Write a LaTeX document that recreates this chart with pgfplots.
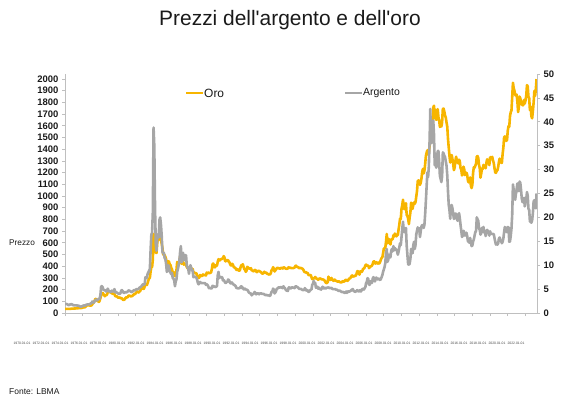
\documentclass[border=0pt]{standalone}
\usepackage{pgfplots}
\pgfplotsset{compat=1.18}
\usepackage{pgfplotstable}
\usepackage{fontspec}
\setmainfont{Liberation Sans}
\definecolor{goldc}{HTML}{F7B500}
\definecolor{silverc}{HTML}{A6A6A6}
\definecolor{axc}{HTML}{BFBFBF}
\definecolor{txt}{HTML}{1A1A1A}

% monthly averages, Jan 1970 - Apr 2023 (USD/oz)
\pgfplotstableread[row sep=\\]{
g\\
35.0\\ 35.0\\ 35.1\\ 35.6\\ 35.9\\ 35.5\\ 35.3\\ 35.4\\ 36.2\\ 37.5\\ 37.4\\ 37.4\\
37.9\\ 38.7\\ 38.9\\ 39.0\\ 40.5\\ 40.1\\ 41.0\\ 42.7\\ 42.0\\ 42.5\\ 42.9\\ 43.5\\
45.8\\ 48.3\\ 48.3\\ 49.0\\ 54.6\\ 62.1\\ 65.7\\ 67.0\\ 65.5\\ 64.9\\ 62.9\\ 63.9\\
65.1\\ 74.2\\ 84.3\\ 90.5\\ 102\\ 120\\ 120\\ 106\\ 103\\ 100\\ 94.8\\ 106\\
129\\ 150\\ 168\\ 172\\ 163\\ 154\\ 143\\ 154\\ 151\\ 158\\ 181\\ 183\\
176\\ 180\\ 178\\ 170\\ 167\\ 164\\ 165\\ 163\\ 144\\ 143\\ 142\\ 139\\
131\\ 131\\ 133\\ 128\\ 126\\ 126\\ 118\\ 110\\ 114\\ 117\\ 130\\ 134\\
132\\ 136\\ 148\\ 149\\ 147\\ 141\\ 144\\ 145\\ 150\\ 158\\ 162\\ 160\\
173\\ 179\\ 184\\ 175\\ 177\\ 183\\ 189\\ 206\\ 212\\ 227\\ 206\\ 208\\
227\\ 245\\ 242\\ 239\\ 257\\ 279\\ 295\\ 301\\ 355\\ 392\\ 392\\ 456\\
675\\ 665\\ 554\\ 517\\ 513\\ 600\\ 644\\ 627\\ 674\\ 661\\ 623\\ 594\\
557\\ 500\\ 498\\ 495\\ 480\\ 461\\ 409\\ 410\\ 443\\ 437\\ 413\\ 410\\
384\\ 374\\ 330\\ 350\\ 334\\ 315\\ 339\\ 364\\ 436\\ 422\\ 415\\ 444\\
481\\ 491\\ 421\\ 432\\ 438\\ 413\\ 422\\ 416\\ 411\\ 394\\ 382\\ 388\\
370\\ 386\\ 394\\ 381\\ 377\\ 378\\ 348\\ 348\\ 341\\ 340\\ 341\\ 320\\
303\\ 299\\ 304\\ 325\\ 316\\ 317\\ 317\\ 330\\ 324\\ 325\\ 325\\ 321\\
345\\ 339\\ 346\\ 340\\ 342\\ 343\\ 348\\ 376\\ 418\\ 423\\ 395\\ 390\\
408\\ 401\\ 408\\ 439\\ 460\\ 449\\ 451\\ 461\\ 460\\ 465\\ 467\\ 486\\
477\\ 442\\ 443\\ 452\\ 451\\ 452\\ 437\\ 432\\ 413\\ 406\\ 420\\ 419\\
404\\ 388\\ 390\\ 384\\ 371\\ 367\\ 375\\ 365\\ 362\\ 366\\ 394\\ 409\\
410\\ 417\\ 393\\ 374\\ 369\\ 352\\ 362\\ 395\\ 389\\ 380\\ 381\\ 378\\
383\\ 364\\ 363\\ 358\\ 357\\ 367\\ 368\\ 356\\ 349\\ 358\\ 360\\ 361\\
354\\ 354\\ 345\\ 338\\ 337\\ 341\\ 353\\ 343\\ 345\\ 344\\ 335\\ 334\\
329\\ 330\\ 330\\ 342\\ 367\\ 372\\ 392\\ 378\\ 355\\ 364\\ 373\\ 383\\
387\\ 382\\ 384\\ 377\\ 381\\ 386\\ 385\\ 380\\ 391\\ 389\\ 384\\ 379\\
379\\ 377\\ 382\\ 391\\ 385\\ 387\\ 386\\ 383\\ 383\\ 383\\ 386\\ 387\\
400\\ 405\\ 396\\ 393\\ 392\\ 385\\ 383\\ 387\\ 383\\ 381\\ 378\\ 369\\
355\\ 347\\ 352\\ 344\\ 344\\ 341\\ 324\\ 324\\ 323\\ 325\\ 306\\ 289\\
289\\ 297\\ 296\\ 308\\ 299\\ 292\\ 293\\ 284\\ 289\\ 296\\ 294\\ 291\\
287\\ 287\\ 286\\ 282\\ 277\\ 262\\ 256\\ 257\\ 264\\ 311\\ 293\\ 283\\
284\\ 300\\ 286\\ 280\\ 275\\ 286\\ 282\\ 275\\ 273\\ 270\\ 266\\ 272\\
266\\ 262\\ 263\\ 261\\ 272\\ 270\\ 268\\ 273\\ 283\\ 283\\ 276\\ 276\\
282\\ 296\\ 294\\ 302\\ 314\\ 321\\ 314\\ 310\\ 319\\ 317\\ 319\\ 333\\
357\\ 359\\ 341\\ 328\\ 355\\ 356\\ 351\\ 360\\ 379\\ 379\\ 389\\ 407\\
414\\ 405\\ 406\\ 404\\ 384\\ 392\\ 398\\ 400\\ 406\\ 420\\ 439\\ 442\\
424\\ 423\\ 434\\ 428\\ 422\\ 431\\ 424\\ 437\\ 456\\ 470\\ 476\\ 510\\
549\\ 555\\ 557\\ 610\\ 676\\ 596\\ 633\\ 632\\ 598\\ 586\\ 628\\ 629\\
631\\ 664\\ 655\\ 679\\ 667\\ 655\\ 665\\ 665\\ 713\\ 754\\ 806\\ 803\\
889\\ 922\\ 968\\ 909\\ 888\\ 890\\ 939\\ 839\\ 829\\ 806\\ 760\\ 816\\
858\\ 943\\ 925\\ 890\\ 928\\ 945\\ 934\\ 949\\ 996\\ 1043\\ 1127\\ 1134\\
1118\\ 1095\\ 1113\\ 1148\\ 1205\\ 1232\\ 1193\\ 1215\\ 1270\\ 1342\\ 1370\\ 1391\\
1356\\ 1372\\ 1424\\ 1474\\ 1510\\ 1529\\ 1572\\ 1756\\ 1772\\ 1666\\ 1739\\ 1652\\
1656\\ 1743\\ 1675\\ 1649\\ 1591\\ 1598\\ 1594\\ 1630\\ 1745\\ 1747\\ 1722\\ 1688\\
1670\\ 1628\\ 1593\\ 1487\\ 1414\\ 1343\\ 1286\\ 1347\\ 1349\\ 1316\\ 1275\\ 1221\\
1244\\ 1300\\ 1336\\ 1299\\ 1287\\ 1279\\ 1311\\ 1296\\ 1239\\ 1223\\ 1176\\ 1200\\
1251\\ 1227\\ 1179\\ 1198\\ 1199\\ 1181\\ 1131\\ 1117\\ 1125\\ 1159\\ 1086\\ 1068\\
1097\\ 1199\\ 1246\\ 1242\\ 1260\\ 1276\\ 1337\\ 1341\\ 1326\\ 1266\\ 1238\\ 1157\\
1192\\ 1234\\ 1231\\ 1266\\ 1246\\ 1260\\ 1237\\ 1283\\ 1314\\ 1280\\ 1283\\ 1265\\
1331\\ 1331\\ 1325\\ 1335\\ 1303\\ 1282\\ 1238\\ 1202\\ 1198\\ 1215\\ 1221\\ 1250\\
1291\\ 1320\\ 1300\\ 1285\\ 1284\\ 1359\\ 1413\\ 1500\\ 1510\\ 1495\\ 1471\\ 1480\\
1560\\ 1597\\ 1592\\ 1683\\ 1716\\ 1732\\ 1847\\ 1968\\ 1922\\ 1901\\ 1866\\ 1858\\
1867\\ 1808\\ 1718\\ 1760\\ 1850\\ 1834\\ 1807\\ 1785\\ 1775\\ 1777\\ 1821\\ 1790\\
1817\\ 1856\\ 1948\\ 1937\\ 1849\\ 1837\\ 1733\\ 1765\\ 1681\\ 1664\\ 1726\\ 1797\\
1898\\ 1855\\ 1913\\ 2000\\
}\goldtab

\pgfplotstableread[row sep=\\]{
s\\
1.86\\ 1.89\\ 1.88\\ 1.84\\ 1.72\\ 1.66\\ 1.70\\ 1.79\\ 1.83\\ 1.85\\ 1.75\\ 1.63\\
1.64\\ 1.59\\ 1.58\\ 1.61\\ 1.60\\ 1.52\\ 1.55\\ 1.50\\ 1.40\\ 1.34\\ 1.34\\ 1.39\\
1.50\\ 1.56\\ 1.57\\ 1.55\\ 1.62\\ 1.76\\ 1.77\\ 1.82\\ 1.82\\ 1.81\\ 1.92\\ 2.01\\
2.05\\ 2.40\\ 2.30\\ 2.18\\ 2.40\\ 2.58\\ 2.80\\ 2.60\\ 2.71\\ 2.90\\ 2.97\\ 2.97\\
3.80\\ 5.60\\ 5.60\\ 5.40\\ 4.90\\ 4.80\\ 4.80\\ 4.60\\ 4.50\\ 4.80\\ 5.10\\ 4.60\\
4.50\\ 4.60\\ 4.40\\ 4.60\\ 4.70\\ 4.50\\ 4.70\\ 5.00\\ 4.30\\ 4.40\\ 4.30\\ 4.20\\
4.10\\ 4.00\\ 4.00\\ 4.10\\ 4.60\\ 4.80\\ 4.60\\ 4.30\\ 4.20\\ 4.30\\ 4.40\\ 4.30\\
4.40\\ 4.50\\ 4.70\\ 4.70\\ 4.60\\ 4.50\\ 4.40\\ 4.40\\ 4.60\\ 4.70\\ 4.80\\ 4.70\\
4.90\\ 5.00\\ 5.00\\ 5.00\\ 5.10\\ 5.30\\ 5.40\\ 5.50\\ 5.70\\ 5.90\\ 6.00\\ 5.90\\
6.10\\ 7.50\\ 7.30\\ 7.40\\ 8.20\\ 8.50\\ 8.90\\ 9.20\\ 13.2\\ 16.4\\ 16.8\\ 21.0\\
38.8\\ 35.0\\ 22.0\\ 14.5\\ 13.0\\ 15.8\\ 16.5\\ 15.8\\ 19.5\\ 20.0\\ 18.5\\ 16.3\\
12.8\\ 12.5\\ 12.6\\ 11.5\\ 11.3\\ 10.3\\ 8.6\\ 8.9\\ 10.0\\ 9.6\\ 8.7\\ 8.4\\
8.1\\ 8.4\\ 7.3\\ 7.2\\ 6.8\\ 5.6\\ 6.6\\ 7.0\\ 8.6\\ 9.2\\ 10.0\\ 11.0\\
12.8\\ 14.0\\ 10.6\\ 11.7\\ 12.6\\ 11.0\\ 12.0\\ 12.1\\ 12.1\\ 10.0\\ 9.5\\ 9.3\\
8.2\\ 9.3\\ 10.0\\ 9.4\\ 9.1\\ 8.8\\ 7.5\\ 7.6\\ 7.6\\ 7.5\\ 7.4\\ 7.0\\
6.3\\ 6.0\\ 6.2\\ 6.5\\ 6.3\\ 6.3\\ 6.2\\ 6.3\\ 6.2\\ 6.3\\ 6.2\\ 5.9\\
6.0\\ 5.9\\ 5.6\\ 5.2\\ 5.3\\ 5.2\\ 5.1\\ 5.2\\ 5.7\\ 5.6\\ 5.6\\ 5.4\\
5.5\\ 5.5\\ 5.7\\ 7.9\\ 8.6\\ 7.3\\ 7.6\\ 7.5\\ 7.5\\ 7.5\\ 6.8\\ 6.9\\
6.7\\ 6.3\\ 6.3\\ 6.5\\ 6.5\\ 7.0\\ 6.9\\ 6.6\\ 6.2\\ 6.2\\ 6.4\\ 6.2\\
6.0\\ 5.9\\ 5.8\\ 5.7\\ 5.3\\ 5.2\\ 5.2\\ 5.1\\ 5.2\\ 5.2\\ 5.5\\ 5.6\\
5.2\\ 5.3\\ 5.0\\ 4.9\\ 5.1\\ 4.9\\ 4.9\\ 4.8\\ 4.7\\ 4.3\\ 4.2\\ 4.1\\
4.1\\ 3.7\\ 3.9\\ 4.0\\ 4.1\\ 4.4\\ 4.2\\ 3.9\\ 4.1\\ 4.1\\ 4.1\\ 3.9\\
4.1\\ 4.1\\ 4.1\\ 4.0\\ 4.0\\ 4.0\\ 3.9\\ 3.8\\ 3.7\\ 3.8\\ 3.7\\ 3.7\\
3.7\\ 3.6\\ 3.6\\ 4.0\\ 4.5\\ 4.5\\ 5.1\\ 4.9\\ 4.1\\ 4.3\\ 4.6\\ 5.1\\
5.1\\ 5.3\\ 5.4\\ 5.3\\ 5.4\\ 5.4\\ 5.3\\ 5.2\\ 5.6\\ 5.3\\ 5.2\\ 4.9\\
4.7\\ 4.7\\ 4.6\\ 5.3\\ 5.4\\ 5.2\\ 5.1\\ 5.3\\ 5.4\\ 5.3\\ 5.3\\ 5.2\\
5.5\\ 5.6\\ 5.5\\ 5.4\\ 5.3\\ 5.1\\ 5.0\\ 5.1\\ 5.0\\ 4.9\\ 4.8\\ 4.8\\
4.8\\ 5.2\\ 5.0\\ 4.7\\ 4.8\\ 4.7\\ 4.4\\ 4.5\\ 4.7\\ 4.9\\ 4.9\\ 5.9\\
6.1\\ 6.7\\ 6.1\\ 6.3\\ 5.3\\ 5.4\\ 5.5\\ 5.1\\ 5.3\\ 5.0\\ 5.0\\ 4.9\\
5.2\\ 5.5\\ 5.2\\ 5.1\\ 5.3\\ 5.1\\ 5.2\\ 5.3\\ 5.3\\ 5.4\\ 5.2\\ 5.2\\
5.2\\ 5.3\\ 5.1\\ 5.0\\ 5.0\\ 5.0\\ 5.0\\ 4.9\\ 4.9\\ 4.8\\ 4.7\\ 4.6\\
4.7\\ 4.6\\ 4.5\\ 4.4\\ 4.4\\ 4.4\\ 4.3\\ 4.2\\ 4.3\\ 4.5\\ 4.2\\ 4.5\\
4.5\\ 4.4\\ 4.6\\ 4.6\\ 4.8\\ 4.9\\ 5.0\\ 4.6\\ 4.6\\ 4.4\\ 4.5\\ 4.6\\
4.8\\ 4.6\\ 4.5\\ 4.6\\ 4.8\\ 4.5\\ 4.8\\ 5.0\\ 5.1\\ 4.9\\ 5.2\\ 5.4\\
6.3\\ 6.5\\ 7.3\\ 7.1\\ 5.9\\ 5.9\\ 6.5\\ 6.7\\ 6.3\\ 7.2\\ 7.5\\ 6.9\\
6.6\\ 7.3\\ 7.4\\ 7.1\\ 7.0\\ 7.2\\ 7.0\\ 6.9\\ 7.1\\ 7.5\\ 7.9\\ 8.6\\
9.1\\ 9.6\\ 10.4\\ 12.6\\ 13.4\\ 10.7\\ 11.1\\ 12.2\\ 11.6\\ 11.7\\ 13.0\\ 13.4\\
12.9\\ 14.0\\ 13.1\\ 13.6\\ 13.3\\ 13.3\\ 12.9\\ 12.2\\ 12.8\\ 13.7\\ 14.6\\ 14.2\\
15.9\\ 17.6\\ 19.1\\ 17.3\\ 16.9\\ 17.0\\ 17.8\\ 14.1\\ 12.1\\ 10.2\\ 10.1\\ 10.3\\
11.3\\ 13.4\\ 13.1\\ 12.5\\ 14.2\\ 14.9\\ 13.4\\ 14.3\\ 16.5\\ 17.2\\ 17.9\\ 17.6\\
17.7\\ 15.9\\ 17.1\\ 18.1\\ 18.4\\ 18.4\\ 17.8\\ 18.4\\ 20.6\\ 23.4\\ 26.4\\ 29.4\\
28.4\\ 30.6\\ 35.8\\ 42.7\\ 35.5\\ 35.8\\ 37.6\\ 40.3\\ 37.4\\ 30.9\\ 33.4\\ 30.4\\
30.9\\ 33.9\\ 33.9\\ 31.7\\ 28.7\\ 28.1\\ 27.4\\ 28.6\\ 33.6\\ 33.4\\ 32.9\\ 32.6\\
31.7\\ 30.8\\ 28.8\\ 25.4\\ 22.6\\ 21.5\\ 19.7\\ 22.1\\ 22.6\\ 21.9\\ 20.8\\ 19.7\\
19.9\\ 20.8\\ 20.7\\ 19.7\\ 19.3\\ 19.9\\ 20.9\\ 19.8\\ 18.4\\ 17.2\\ 15.9\\ 16.2\\
17.2\\ 16.9\\ 16.2\\ 16.3\\ 16.8\\ 16.1\\ 15.0\\ 14.9\\ 14.7\\ 15.7\\ 14.7\\ 14.0\\
14.1\\ 15.0\\ 15.4\\ 16.2\\ 16.9\\ 17.2\\ 20.0\\ 19.6\\ 19.3\\ 17.7\\ 17.4\\ 16.4\\
16.7\\ 17.8\\ 17.3\\ 18.0\\ 16.8\\ 17.2\\ 16.1\\ 17.0\\ 17.4\\ 17.1\\ 16.9\\ 16.2\\
17.1\\ 16.6\\ 16.5\\ 16.6\\ 16.5\\ 16.5\\ 15.7\\ 14.9\\ 14.3\\ 14.6\\ 14.3\\ 14.6\\
15.6\\ 15.8\\ 15.2\\ 15.0\\ 14.6\\ 14.9\\ 15.6\\ 16.9\\ 18.0\\ 17.6\\ 17.1\\ 16.9\\
18.0\\ 17.9\\ 14.9\\ 15.0\\ 16.1\\ 17.7\\ 20.6\\ 26.9\\ 25.8\\ 24.2\\ 23.7\\ 24.9\\
25.9\\ 27.1\\ 25.5\\ 25.6\\ 27.5\\ 27.2\\ 25.7\\ 23.9\\ 23.2\\ 23.4\\ 24.1\\ 22.3\\
23.4\\ 23.7\\ 25.3\\ 24.5\\ 21.8\\ 21.6\\ 19.1\\ 19.1\\ 18.9\\ 19.4\\ 20.9\\ 23.3\\
23.6\\ 22.2\\ 21.9\\ 25.0\\
}\silvertab

\pgfplotsset{
  common/.style={
    at={(65bp,86bp)}, anchor=south west,
    scale only axis, width=472bp, height=239bp,
    xmin=0, xmax=639.6,
    tick align=outside, major tick length=3bp,
    axis line style={axc, line width=0.7bp},
    tick style={axc, line width=0.7bp},
    /pgf/number format/assume math mode=true,
    /pgf/number format/1000 sep={},
    yticklabel style={font=\bfseries\fontsize{9.5}{10}\selectfont, text=txt},
  }
}

\begin{document}
\begin{tikzpicture}[x=1bp,y=1bp]
\useasboundingbox (0,0) rectangle (576,399);
\begin{axis}[common,
  ymin=0, ymax=2043,
  axis y line*=left, axis x line*=bottom,
  xtick={0,24,...,624}, xticklabels={},
  ytick={0,100,...,2000},
]
\addplot[goldc, line width=2.6bp, no marks, line join=round] table[x expr=\coordindex, y=g] {\goldtab};
\end{axis}
\begin{axis}[common,
  ymin=0, ymax=50,
  axis y line*=right, axis x line=none,
  ytick={0,5,...,50},
]
\addplot[silverc, line width=2.6bp, no marks, line join=round] table[x expr=\coordindex, y=s] {\silvertab};
\end{axis}
% title
\node[font=\fontsize{21}{24}\selectfont, text=txt] at (290,378.5) {Prezzi dell\textquotesingle argento e dell\textquotesingle oro};
% legend
\draw[goldc, line width=2.6bp] (186,306) -- (203,306);
\node[anchor=west, inner sep=0pt, font=\fontsize{12}{14}\selectfont, text=txt] at (204,306) {Oro};
\draw[silverc, line width=2.6bp] (345,306) -- (362,306);
\node[anchor=west, inner sep=0pt, font=\fontsize{10.5}{12}\selectfont, text=txt] at (363,306) {Argento};
% y label
\node[anchor=west, inner sep=0pt, font=\fontsize{8.3}{9}\selectfont, text=txt] at (9,156) {Prezzo};
% x tick labels
\foreach \i in {0,...,26} {
  \pgfmathtruncatemacro\yr{1970+2*\i}
  \node[inner sep=0pt, font=\fontsize{3.4}{4}\selectfont, text=txt!80] at ({22+19*\i},56) {\yr.01.01};
}
% source
\node[anchor=west, inner sep=0pt, font=\fontsize{8.5}{10}\selectfont, text=txt] at (9,7) {Fonte: LBMA};
\end{tikzpicture}
\end{document}
